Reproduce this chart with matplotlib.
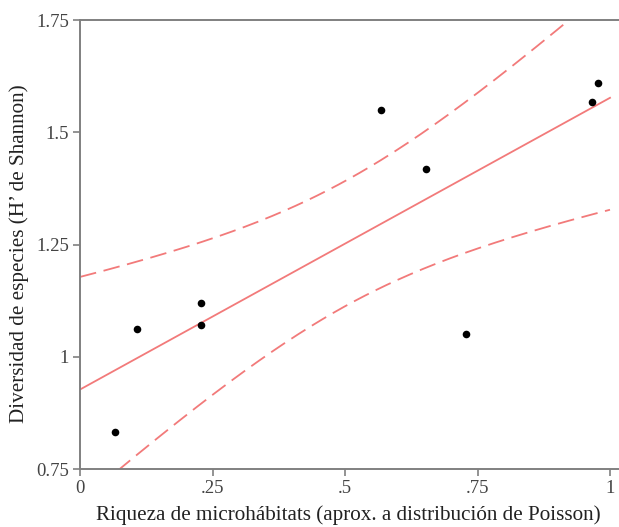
import numpy as np
import matplotlib
matplotlib.use("Agg")
import matplotlib.pyplot as plt

# Data
riqueza = [0.066, 0.107, 0.228, 0.228, 0.567, 0.652, 0.728, 0.966, 0.977]
diversidad = [0.832, 1.061, 1.120, 1.072, 1.549, 1.419, 1.050, 1.569, 1.610]
x_ticks = [0, 0.25, 0.5, 0.75, 1]
x_ticklabels = ["0", ".25", ".5", ".75", "1"]
y_ticks = [0.75, 1, 1.25, 1.5, 1.75]
y_ticklabels = ["0.75", "1", "1.25", "1.5", "1.75"]
t_crit = 2.365  # t(0.975, df=7)

plt.rcParams['font.family'] = ['Liberation Serif', 'DejaVu Serif']
plt.rcParams['lines.scale_dashes'] = False

x = np.array(riqueza)
y = np.array(diversidad)
n = len(x)
b1, b0 = np.polyfit(x, y, 1)
resid = y - (b0 + b1 * x)
s = np.sqrt(np.sum(resid ** 2) / (n - 2))
sxx = np.sum((x - x.mean()) ** 2)
xx = np.linspace(0, 1, 200)
yy = b0 + b1 * xx
se = s * np.sqrt(1 / n + (xx - x.mean()) ** 2 / sxx)

fig = plt.figure(figsize=(6.19, 5.27), dpi=100)
ax = fig.add_axes([80 / 619, 1 - 469 / 527, 539 / 619, (469 - 20.3) / 527])

red = '#f27a7a'
ax.plot(xx, yy, color=red, lw=1.3)
ax.plot(xx, yy + t_crit * se, color=red, lw=1.3, dashes=(12, 5.5))
ax.plot(xx, yy - t_crit * se, color=red, lw=1.3, dashes=(12, 5.5))
ax.scatter(x, y, s=30, color='black', zorder=3, linewidths=0)

ax.set_xlim(0, 539 / 530)
ax.set_ylim(0.75, 1.75)
ax.set_xticks(x_ticks)
ax.set_xticklabels(x_ticklabels)
ax.set_yticks(y_ticks)
ax.set_yticklabels(y_ticklabels)

for side in ['left', 'bottom', 'top']:
    ax.spines[side].set_color('#808080')
    ax.spines[side].set_linewidth(1.4)
ax.spines['right'].set_visible(False)
ax.tick_params(axis='both', direction='out', length=5, width=1.2, color='#808080',
               labelsize=13.5, labelcolor='#444444', pad=3)

ax.set_xlabel("Riqueza de microhábitats (aprox. a distribución de Poisson)", fontsize=15.2, color='#222222')
ax.xaxis.set_label_coords((348 - 80) / 539, -(525 - 469) / 448.7)
ax.xaxis.label.set_va('bottom')
ax.set_ylabel("Diversidad de especies (H’ de Shannon)", fontsize=15.2, color='#222222')
ax.yaxis.set_label_coords(-(80 - 29) / 539, (469 - 253.5) / 448.7)

fig.savefig("out.png", dpi=100)
